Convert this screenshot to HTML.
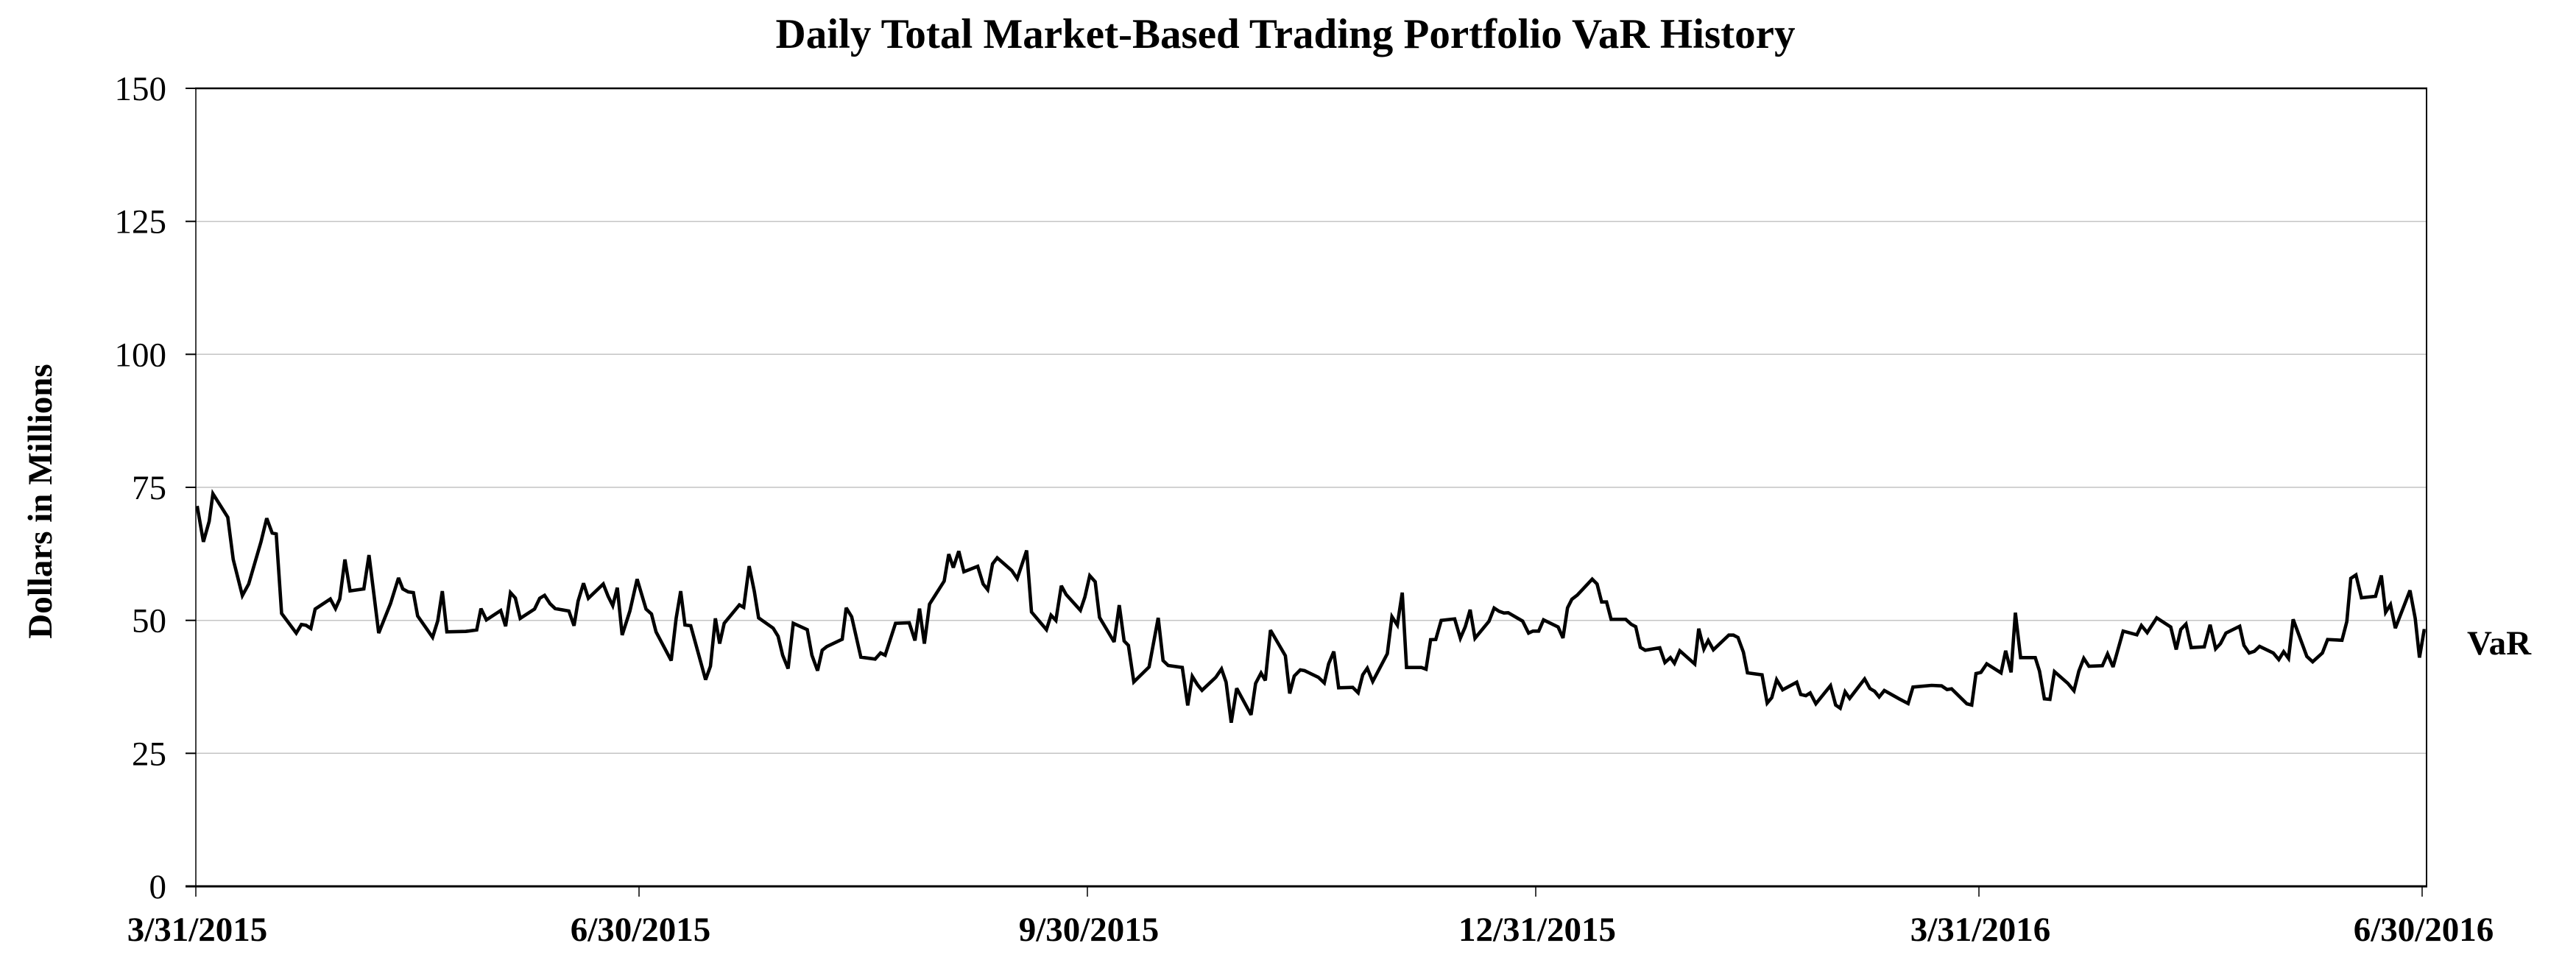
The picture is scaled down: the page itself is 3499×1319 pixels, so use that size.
<!DOCTYPE html>
<html>
<head>
<meta charset="utf-8">
<style>
  html, body { margin:0; padding:0; background:#fff; }
  svg { display:block; }
  text { font-family: "Liberation Serif", "Times New Roman", serif; fill:#000; }
</style>
</head>
<body>
<svg width="3499" height="1319" viewBox="0 0 3499 1319" xmlns="http://www.w3.org/2000/svg">
  <rect x="0" y="0" width="3499" height="1319" fill="#fff"/>

  <!-- Title -->
  <text x="1746" y="65" font-size="57" font-weight="bold" text-anchor="middle">Daily Total Market-Based Trading Portfolio VaR History</text>

  <!-- Gridlines -->
  <g stroke="#c4c4c4" stroke-width="1.5">
    <line x1="266" y1="300.7" x2="3296" y2="300.7"/>
    <line x1="266" y1="481.3" x2="3296" y2="481.3"/>
    <line x1="266" y1="662" x2="3296" y2="662"/>
    <line x1="266" y1="842.7" x2="3296" y2="842.7"/>
    <line x1="266" y1="1023.3" x2="3296" y2="1023.3"/>
  </g>

  <!-- Frame -->
  <line x1="265" y1="120" x2="3297" y2="120" stroke="#000" stroke-width="2.5"/>
  <line x1="3296" y1="120" x2="3296" y2="1204" stroke="#000" stroke-width="2"/>
  <line x1="266" y1="120" x2="266" y2="1204" stroke="#000" stroke-width="1.5"/>
  <line x1="252" y1="1204" x2="3297" y2="1204" stroke="#000" stroke-width="3"/>

  <!-- Y ticks -->
  <g stroke="#000" stroke-width="2">
    <line x1="252" y1="120" x2="266" y2="120"/>
    <line x1="252" y1="300.7" x2="266" y2="300.7"/>
    <line x1="252" y1="481.3" x2="266" y2="481.3"/>
    <line x1="252" y1="662" x2="266" y2="662"/>
    <line x1="252" y1="842.7" x2="266" y2="842.7"/>
    <line x1="252" y1="1023.3" x2="266" y2="1023.3"/>
  </g>
  <!-- X ticks -->
  <g stroke="#000" stroke-width="1.5">
    <line x1="266" y1="1204" x2="266" y2="1218"/>
    <line x1="868" y1="1204" x2="868" y2="1218"/>
    <line x1="1477" y1="1204" x2="1477" y2="1218"/>
    <line x1="2086" y1="1204" x2="2086" y2="1218"/>
    <line x1="2688" y1="1204" x2="2688" y2="1218"/>
    <line x1="3290" y1="1204" x2="3290" y2="1218"/>
  </g>

  <!-- Y tick labels -->
  <g font-size="47" text-anchor="end">
    <text x="226" y="136">150</text>
    <text x="226" y="316.7">125</text>
    <text x="226" y="497.3">100</text>
    <text x="226" y="678">75</text>
    <text x="226" y="858.7">50</text>
    <text x="226" y="1039.3">25</text>
    <text x="226" y="1220">0</text>
  </g>

  <!-- X tick labels -->
  <g font-size="47" font-weight="bold" text-anchor="middle">
    <text x="268" y="1278">3/31/2015</text>
    <text x="870" y="1278">6/30/2015</text>
    <text x="1479" y="1278">9/30/2015</text>
    <text x="2088" y="1278">12/31/2015</text>
    <text x="2690" y="1278">3/31/2016</text>
    <text x="3292" y="1278">6/30/2016</text>
  </g>

  <!-- Y axis title -->
  <text transform="translate(70,681) rotate(-90)" font-size="47" font-weight="bold" text-anchor="middle">Dollars in Millions</text>

  <!-- Legend -->
  <text x="3351" y="889" font-size="47" font-weight="bold">VaR</text>

  <!-- VaR series -->
  <polyline fill="none" stroke="#000" stroke-width="4.6" stroke-linejoin="miter" stroke-miterlimit="3" points="
267.8,687.3 276.3,736 284.1,708.3 289.2,670.7 309.4,702.7 316.8,760 329.2,809 337.8,793.3 354.5,736 362.3,704 369.7,724 375.2,725.3 382.5,833.3 402.4,860 409.4,848.3 415.6,849.3 422.2,853.7 428.1,827.3 448.7,813.7 455.7,826.7 461.5,813.7 468.5,760 475.5,802.7 494.2,800 501.2,754 507.8,806.7 514.4,860 530.4,820 541.3,785 547.1,800 554.5,804 561.5,805 567.3,836.7 587.6,865.7 594.6,843.3 600.8,803 607,858.3 632.7,857.7 647.5,855.7 653.3,826.7 660.7,842 680.1,829.3 686.8,850.7 693.4,805 700,812.3 706.6,840 726.1,827.3 733.1,812.7 739.7,808.7 747.1,820 754.1,826.7 772.7,830 779.7,850 785.2,816.7 792.6,792.3 799.2,812.7 819.4,793.3 826,810 832.3,822.7 838.5,798.3 845.1,862.7 855.6,830 865.4,786.7
877.5,827.3 884.9,834 891.1,858.3 911.7,897.3 918.4,840 924.6,803 930.4,849 938.2,850 958.4,923.3 965,905 971.7,840 977.5,874.3 983.7,846.7 1004.3,821.7 1010.2,825 1017.6,769 1024.6,803.3 1030.4,839.3 1050.2,853.3 1056.9,864.3 1063.1,890 1070.5,908.3 1077.5,846.7 1096.5,855.3 1102.8,890 1110.5,911 1116.8,883.3 1123,878.3 1144,868.3 1149.4,825.7 1156.8,837.7 1169.3,892.7 1188.7,895.3 1196.1,887 1202.3,890 1216.4,846.7 1235,846 1242.8,870 1249,826.7 1255.6,874.3 1262.6,820.7 1282.5,789.3 1288.7,752.7 1294.9,771 1302.3,748.7 1309.3,776.7 1328,769.3 1335.4,793.3 1341.6,801 1348.2,766 1354.5,757.7 1374.3,775 1381.7,786 1394.5,747.7 1401.1,831.3 1421.4,855.3 1427.6,835.7 1434.2,842.7 1441.6,795.7 1448.2,807.7 1467.5,829
1473.6,811 1480.2,782 1487.6,790.3 1493.5,838.7 1513.3,872 1520.3,822 1526.9,870.7 1532.7,876.7 1540.1,926.3 1560.8,906 1573.2,839.3 1579.8,897.3 1586.8,904 1605.9,906.7 1613.3,958.3 1619.5,918.7 1626.5,930 1632.7,937.7 1651.4,920 1659.2,908.7 1665.4,926.7 1672.4,981.7 1679.8,935 1699.3,971 1705.5,928.3 1712.9,914.3 1718.7,924.3 1725.7,856 1745.9,890.7 1751.8,942 1758,918.3 1766.2,910 1772,911 1790.7,920 1798.8,927.7 1804.7,901.7 1811.7,885 1818.3,934.3 1837.4,933.7 1844.8,941 1851,916.7 1857.2,907.7 1864.6,925.7 1884.4,888 1890.7,837.7 1898,849 1904.7,805 1910.5,906.7 1930.7,906.7 1937,909 1943.2,869 1950.2,868.7 1957.6,842.7 1975.9,840.7 1983.6,867 1990.3,851.3 1996.9,828.3 2003.5,867 2022.5,844 2029.5,826 2036.1,830.3 2042.8,832.7 2048.6,832.3 2068.2,843.7
2076.3,860 2082.2,857.3 2090,857.3 2096.6,842 2116.4,851.7 2123,866.7 2129.2,825.7 2135.1,814 2142.5,808.3 2162.7,786.7 2169.3,793.3 2175.5,817.7 2182.2,817.7 2188.4,841.3 2208.2,841.3 2215.6,848 2221.8,851.3 2228.1,879.3 2234.7,883.3 2254.5,880 2261.5,900 2268.9,893.3 2274.4,901 2281.7,884 2302,902 2307.4,854 2314.4,881.7 2320.3,870 2327.3,882.7 2348.3,862.7 2354.5,862.7 2360.7,866 2368.1,886 2373.6,914 2393.4,916.7 2400.4,955 2406.6,947.7 2413.2,923.3 2421.4,937 2440.5,926.7 2445.9,943.3 2452.9,945 2458.8,941.3 2466.5,956 2486.4,931.3 2493.4,957.7 2499.6,962 2506.2,939.7 2512.4,948.7 2532.7,922.3 2540,935.3 2546.3,939 2552.5,946.7 2559.5,938 2579.7,949.3 2591.8,955.7 2598.4,933.3 2623.7,931 2637.3,931.7 2644.7,936.7 2650.9,935.7 2671.6,956
2678.2,957.7 2684,915 2690.7,913.3 2698.6,901.7 2718,914 2724.3,884 2731.7,913.3 2737.5,832.3 2744.6,893.3 2764.5,893.3 2770.3,911.7 2776.9,949.3 2784.4,950 2790.6,912.3 2808.8,928.3 2817.1,938.3 2823.7,911.7 2830.4,894.3 2837.4,905 2855.7,904.3 2862.7,888.3 2870.2,906 2883.9,857.3 2902.5,862.3 2908.7,849.7 2916.6,859.3 2929.5,839.3 2948.5,851.7 2956,882.3 2962.2,855 2969.2,847.7 2976.3,879.7 2994.1,878.7 3002,848.7 3009.5,881.3 3016.1,874.3 3023.5,860 3042.2,850.7 3048,876.7 3055.1,887 3062.1,884.7 3069.2,878 3087.8,887 3095.3,896 3101.9,885.3 3108.5,894.3 3114.8,841.3 3133.4,891.7 3141.3,899 3154.5,887 3161.6,868.7 3181.1,869.7 3187.7,844.3 3193.1,785.7 3200.1,781 3207.6,812 3226.7,810 3234.6,781.7 3240.4,831.7 3247,821.3 3253.6,853.3 3273.5,802 3280.6,840 3286.4,893.3 3292.6,856.7 3294.7,856.7"/>
</svg>
</body>
</html>
